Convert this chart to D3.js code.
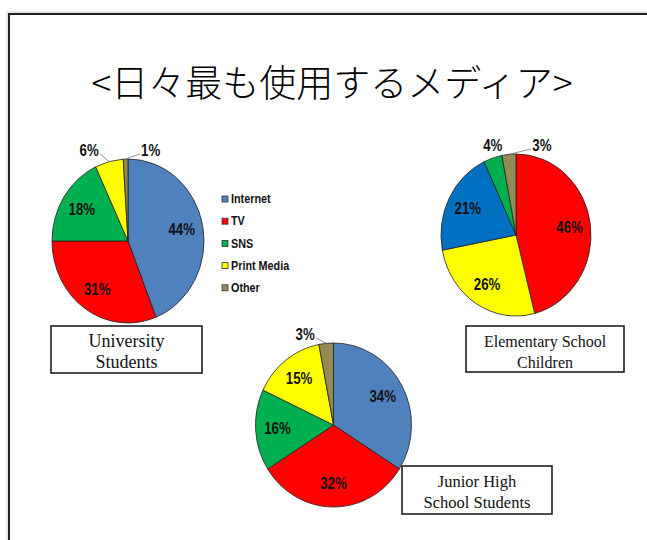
<!DOCTYPE html>
<html>
<head>
<meta charset="utf-8">
<script src="https://cdn.jsdelivr.net/npm/d3@7"></script>
<style>
  body { margin: 0; background: #fff; }
  svg { display: block; }
  .num { font-family: "Liberation Sans", Arial, sans-serif; font-weight: bold; }
</style>
</head>
<body>
<svg id="chart" width="647" height="540"></svg>
<script>
const title = "<日々最も使用するメディア>";
const categories = ["Internet", "TV", "SNS", "Print Media", "Other"];
const universityValues = [44, 31, 18, 6, 1];
const juniorValues = [34, 32, 16, 15, 3];
const elementaryCategories = ["TV", "Print Media", "Internet", "SNS", "Other"];
const elementaryValues = [46, 26, 21, 4, 3];

const colors = {
  "Internet": "#4f81bd",
  "TV": "#ff0000",
  "SNS": "#00b050",
  "Print Media": "#ffff00",
  "Other": "#948a54"
};

const svg = d3.select('#chart');

// slide frame
svg.append('path').attr('d', 'M7,540V12H647').attr('fill', 'none').attr('stroke', '#ccc').attr('stroke-width', 1);
svg.append('path').attr('d', 'M9,540V14H647').attr('fill', 'none').attr('stroke', '#222').attr('stroke-width', 2);

svg.append('text')
  .attr('x', 332).attr('y', 97)
  .attr('text-anchor', 'middle')
  .attr('font-family', '"Noto Sans CJK JP", sans-serif')
  .attr('font-weight', 300)
  .attr('font-size', 37)
  .attr('fill', '#000')
  .text(title);

const charts = [
  { name: ['University', 'Students'], cats: categories, values: universityValues,
    cx: 128, cy: 241, rx: 76, ry: 82, box: [51, 326, 151, 47], fs: 18,
    nudge: { 'Print Media': -20, 'Other': 25 } },
  { name: ['Elementary School', 'Children'], cats: elementaryCategories, values: elementaryValues,
    cx: 516, cy: 235, rx: 75, ry: 81, box: [466, 326, 158, 46], fs: 16,
    nudge: { 'SNS': 0, 'Other': 33 }, colors: { 'Internet': '#0070c0' } },
  { name: ['Junior High', 'School Students'], cats: categories, values: juniorValues,
    cx: 333.5, cy: 425, rx: 78, ry: 82, box: [402, 466, 150, 48], fs: 16.5,
    nudge: { 'Other': -21 } }
];

const pie = d3.pie().sort(null).value(d => d.value);

// narrow bold number label
function numLabel(x, y, txt, size) {
  svg.append('text')
    .attr('class', 'num')
    .attr('transform', `translate(${x},${y}) scale(0.83,1)`)
    .attr('text-anchor', 'middle')
    .attr('dominant-baseline', 'central')
    .attr('font-size', size)
    .attr('fill', '#111')
    .text(txt);
}

charts.forEach(c => {
  const data = c.cats.map((k, i) => ({ key: k, value: c.values[i] }));
  const arcs = pie(data);
  const arc = d3.arc().innerRadius(0).outerRadius(c.rx);
  const sy = c.ry / c.rx;
  const fill = k => (c.colors && c.colors[k]) || colors[k];

  const g = svg.append('g').attr('transform', `translate(${c.cx},${c.cy}) scale(1,${sy})`);
  g.selectAll('path')
    .data(arcs)
    .enter().append('path')
    .attr('d', arc)
    .attr('fill', d => fill(d.data.key))
    .attr('stroke', '#222')
    .attr('stroke-width', 0.8)
    .attr('vector-effect', 'non-scaling-stroke');

  arcs.forEach(d => {
    const a = (d.startAngle + d.endAngle) / 2;
    let x, y;
    if (d.data.value >= 10) {
      x = c.cx + 0.72 * c.rx * Math.sin(a);
      y = c.cy - 0.72 * c.ry * Math.cos(a);
    } else {
      const n = c.nudge[d.data.key] || 0;
      x = c.cx + c.rx * Math.sin(a) + n;
      y = c.cy - c.ry - 8;
      if (Math.abs(n) > 5) {
        const s = n > 0 ? -1 : 1;
        svg.append('line')
          .attr('x1', x + s * 11).attr('y1', y + 3)
          .attr('x2', c.cx + c.rx * Math.sin(a)).attr('y2', c.cy - c.ry * Math.cos(a))
          .attr('stroke', '#777').attr('stroke-width', 0.8);
      }
    }
    numLabel(x, y, d.data.value + '%', 16);
  });

  // name box
  const [bx, by, bw, bh] = c.box;
  svg.append('rect')
    .attr('x', bx).attr('y', by).attr('width', bw).attr('height', bh)
    .attr('fill', '#fff').attr('stroke', '#111').attr('stroke-width', 1.5);
  c.name.forEach((line, i) => {
    svg.append('text')
      .attr('x', bx + bw / 2).attr('y', by + 15 + c.fs * 0.35 + i * 21)
      .attr('text-anchor', 'middle')
      .attr('font-family', '"Liberation Serif", "Times New Roman", serif')
      .attr('font-size', c.fs)
      .attr('fill', '#111')
      .text(line);
  });
});

// legend
const legend = svg.append('g').attr('transform', 'translate(222,199)');
const item = legend.selectAll('g')
  .data(categories)
  .enter().append('g')
  .attr('transform', (d, i) => `translate(0,${i * 22.2})`);
item.append('rect')
  .attr('x', 0).attr('y', -3).attr('width', 6).attr('height', 6)
  .attr('fill', d => colors[d])
  .attr('stroke', '#333').attr('stroke-width', 0.8);
item.append('text')
  .attr('class', 'num')
  .attr('transform', 'translate(9,0) scale(0.9,1)')
  .attr('dominant-baseline', 'central')
  .attr('font-size', 12)
  .attr('fill', '#111')
  .text(d => d);
</script>
</body>
</html>
